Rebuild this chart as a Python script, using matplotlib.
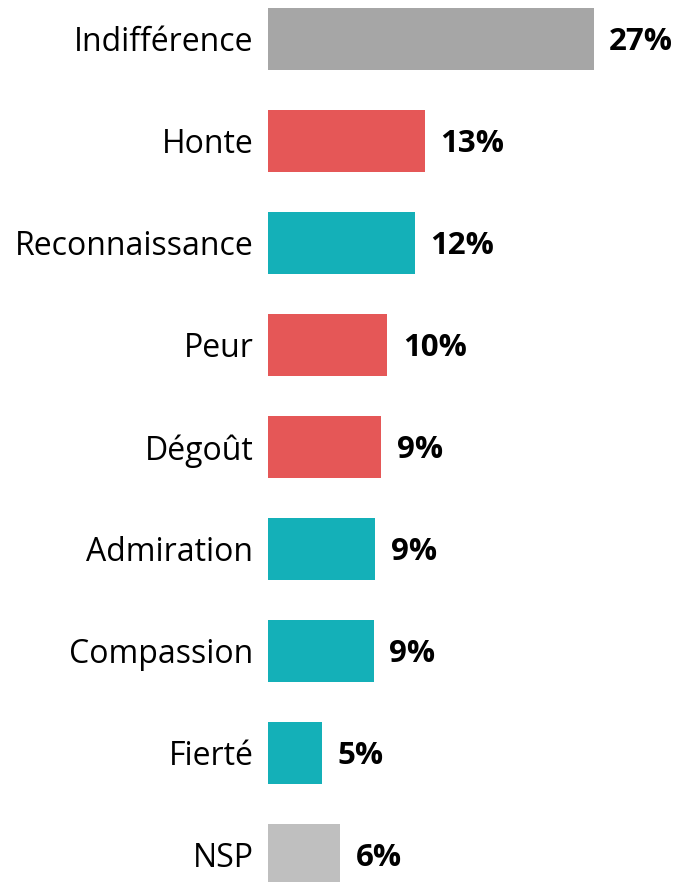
import matplotlib
matplotlib.use("Agg")
import matplotlib.pyplot as plt

# valeurs
categories = ['Indifférence', 'Honte', 'Reconnaissance', 'Peur', 'Dégoût',
              'Admiration', 'Compassion', 'Fierté', 'NSP']
values = [27.0, 13.0, 12.2, 9.9, 9.4, 8.9, 8.8, 4.5, 6.0]
labels = ['27%', '13%', '12%', '10%', '9%', '9%', '9%', '5%', '6%']
groups = ['neutre', 'neg', 'pos', 'neg', 'neg', 'pos', 'pos', 'pos', 'nsp']

palette = {'neutre': '#A6A6A6', 'neg': '#E55757', 'pos': '#14B0B8', 'nsp': '#BFBFBF'}
colors = [palette[g] for g in groups]

plt.rcParams['font.family'] = ['Open Sans', 'DejaVu Sans']

fig = plt.figure(figsize=(6.77, 8.82), dpi=100)
ax = fig.add_axes([268 / 677, 0, 409 / 677, 1])

ypos = list(range(len(categories)))
ax.barh(ypos, values, height=0.61, color=colors)

for y, v, lab in zip(ypos, values, labels):
    ax.annotate(lab, (v, y), xytext=(11, -2.5), textcoords='offset points',
                ha='left', va='center', fontsize=22.5, fontweight='bold', color='black')

ax.set_yticks(ypos)
ax.set_yticklabels(categories, fontsize=23)
ax.tick_params(axis='y', length=0, pad=10.5)
ax.set_xticks([])
ax.set_xlim(0, 409 / 12.07)
ax.set_ylim(8 + 0.265, -0.382)
for s in ax.spines.values():
    s.set_visible(False)

fig.savefig('out.png', dpi=100)
